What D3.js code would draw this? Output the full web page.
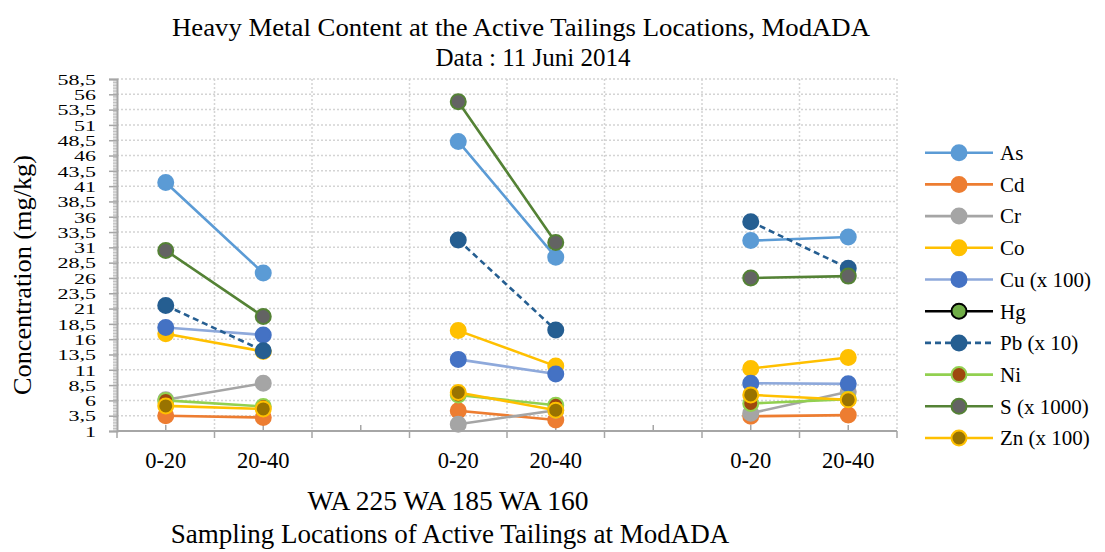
<!DOCTYPE html>
<html>
<head>
<meta charset="utf-8">
<script src="https://cdn.jsdelivr.net/npm/d3@7"></script>
<style>
html,body{margin:0;padding:0;background:#fff;}
svg{display:block;}
</style>
</head>
<body>
<svg id="chart" width="1105" height="552" font-family="Liberation Serif"></svg>
<script>
// ---- data ----
const depths = ["0-20", "20-40", "", "0-20", "20-40", "", "0-20", "20-40"];
const locationLabel = "WA 225 WA 185 WA 160";
const seriesNames = ["As", "Cd", "Cr", "Co", "Cu (x 100)", "Hg", "Pb (x 10)", "Ni", "S (x 1000)", "Zn (x 100)"];
const As = [41.6, 26.8, null, 48.3, 29.4, null, 32.1, 32.7];
const Cd = [3.5, 3.2, null, 4.3, 2.8, null, 3.4, 3.6];
const Cr = [6.1, 8.8, null, 2.1, 4.4, null, 3.9, 7.4];
const Co = [16.9, 14.0, null, 17.4, 11.6, null, 11.2, 13.0];
const Cu = [17.9, 16.7, null, 12.7, 10.3, null, 8.8, 8.7];
const Hg = [null, null, null, null, null, null, null, null];
const Pb = [21.5, 14.1, null, 32.2, 17.5, null, 35.2, 27.6];
const Ni = [6.0, 5.0, null, 6.9, 5.2, null, 5.5, 6.2];
const S = [30.5, 19.7, null, 54.8, 31.8, null, 26.0, 26.3];
const Zn = [5.1, 4.6, null, 7.3, 4.4, null, 6.9, 6.1];
const yTicks = d3.range(1, 58.51, 2.5);

// ---- styles ----
const FONT = "Liberation Serif";
const styles = [
  {line: "#5B9BD5", fill: "#5B9BD5", stroke: "#5B9BD5"},
  {line: "#ED7D31", fill: "#ED7D31", stroke: "#ED7D31"},
  {line: "#A5A5A5", fill: "#A5A5A5", stroke: "#A5A5A5"},
  {line: "#FFC000", fill: "#FFC000", stroke: "#FFC000"},
  {line: "#8EA9DB", fill: "#4472C4", stroke: "#4472C4"},
  {line: "#000000", fill: "#70AD47", stroke: "#000000"},
  {line: "#255E91", fill: "#255E91", stroke: "#255E91", dash: "6,4"},
  {line: "#92D050", fill: "#9E480E", stroke: "#92D050"},
  {line: "#548235", fill: "#636363", stroke: "#548235"},
  {line: "#FFC000", fill: "#997300", stroke: "#FFC000"}
];
const allValues = [As, Cd, Cr, Co, Cu, Hg, Pb, Ni, S, Zn];

const svg = d3.select("#chart");
const L = 117, R = 897, T = 79, B = 431;
const x = d3.scaleBand().domain(d3.range(depths.length)).range([L, R]).padding(0);
const y = d3.scaleLinear().domain([1, 58.5]).range([B, T]);
const cx = i => x(i) + x.bandwidth() / 2;

function txt(sel, size) {
  return sel.attr("font-family", FONT).attr("font-size", size).attr("fill", "#000");
}

// gridlines
const grid = svg.append("g").attr("stroke", "#D4D4D4").attr("stroke-width", 1.5).attr("stroke-dasharray", "2,2");
yTicks.filter(t => t > 1).forEach(t => {
  grid.append("line").attr("x1", L).attr("x2", R).attr("y1", y(t)).attr("y2", y(t));
});
d3.range(1, depths.length + 1).forEach(i => {
  const xx = i < depths.length ? x(i) : R;
  grid.append("line").attr("x1", xx).attr("x2", xx).attr("y1", T).attr("y2", B);
});

// y axis: minor comb
const yMinor = svg.append("g").attr("transform", `translate(${L},0)`)
  .call(d3.axisLeft(y).tickValues(d3.range(1, 58.51, 0.25)).tickSize(4).tickFormat(""));
yMinor.select(".domain").remove();
yMinor.selectAll("line").attr("stroke", "#BFBFBF").attr("stroke-width", 1);
// y axis: major
const yMajor = svg.append("g").attr("transform", `translate(${L},0)`)
  .call(d3.axisLeft(y).tickValues(yTicks).tickSize(8).tickPadding(13)
    .tickFormat(d => String(d).replace(".", ",")));
yMajor.attr("font-family", FONT);
yMajor.select(".domain").attr("stroke", "#A6A6A6").attr("stroke-width", 2);
yMajor.selectAll("line").attr("stroke", "#A6A6A6").attr("stroke-width", 1.5);
yMajor.selectAll("text").call(txt, 22)
  .attr("dy", null).attr("y", 0).attr("dominant-baseline", "central")
  .attr("transform", "scale(1,0.7)");

// x axis
const xAxisG = svg.append("g").attr("transform", `translate(0,${B})`);
xAxisG.append("line").attr("x1", L).attr("x2", R).attr("stroke", "#A6A6A6").attr("stroke-width", 2);
d3.range(0, depths.length + 1).forEach(i => {
  const xx = i < depths.length ? x(i) : R;
  xAxisG.append("line").attr("x1", xx).attr("x2", xx).attr("y1", 0).attr("y2", 7).attr("stroke", "#A6A6A6").attr("stroke-width", 1.5);
});
d3.range(0, depths.length).forEach(i => {
  xAxisG.append("line").attr("x1", cx(i)).attr("x2", cx(i)).attr("y1", 0).attr("y2", -6).attr("stroke", "#A6A6A6").attr("stroke-width", 1.5);
});
xAxisG.selectAll("text.cat").data(depths).enter().append("text").attr("class", "cat")
  .attr("x", (d, i) => cx(i)).attr("y", 37).attr("text-anchor", "middle")
  .call(txt, 22.5).text(d => d);

// series
const plot = svg.append("g");
const line = d3.line().defined(d => d.v != null).x(d => cx(d.i)).y(d => y(d.v));
allValues.forEach((vals, k) => {
  const st = styles[k];
  const pts = vals.map((v, i) => ({i, v}));
  const g = plot.append("g");
  g.append("path").datum(pts).attr("d", line).attr("fill", "none")
    .attr("stroke", st.line).attr("stroke-width", 2.6).attr("stroke-dasharray", st.dash || null);
  g.selectAll("circle").data(pts.filter(p => p.v != null)).enter().append("circle")
    .attr("cx", p => cx(p.i)).attr("cy", p => y(p.v)).attr("r", 7.5)
    .attr("fill", st.fill).attr("stroke", st.stroke).attr("stroke-width", 2);
});

// legend
const lg = svg.append("g");
seriesNames.forEach((name, k) => {
  const st = styles[k];
  const yy = 152.7 + k * 31.7;
  lg.append("line").attr("x1", 925).attr("x2", 993).attr("y1", yy).attr("y2", yy)
    .attr("stroke", st.line).attr("stroke-width", 2.6).attr("stroke-dasharray", st.dash || null);
  lg.append("circle").attr("cx", 959).attr("cy", yy).attr("r", 7.5)
    .attr("fill", st.fill).attr("stroke", st.stroke).attr("stroke-width", 2);
  lg.append("text").attr("x", 1000).attr("y", yy).attr("dy", "0.35em").call(txt, 21).text(name);
});

// titles
svg.append("text").attr("x", 521).attr("y", 36).attr("text-anchor", "middle").call(txt, 26)
  .attr("textLength", 698).attr("lengthAdjust", "spacingAndGlyphs")
  .text("Heavy Metal Content at the Active Tailings Locations, ModADA");
svg.append("text").attr("x", 533).attr("y", 66).attr("text-anchor", "middle").call(txt, 25)
  .text("Data : 11 Juni 2014");
svg.append("text").attr("transform", "translate(31,275) rotate(-90)").attr("text-anchor", "middle").call(txt, 25)
  .attr("textLength", 240).attr("lengthAdjust", "spacingAndGlyphs")
  .text("Concentration (mg/kg)");
svg.append("text").attr("x", 448).attr("y", 510).attr("text-anchor", "middle").call(txt, 27.5)
  .text(locationLabel);
svg.append("text").attr("x", 450).attr("y", 543).attr("text-anchor", "middle").call(txt, 27)
  .text("Sampling Locations of Active Tailings at ModADA");
</script>
</body>
</html>
